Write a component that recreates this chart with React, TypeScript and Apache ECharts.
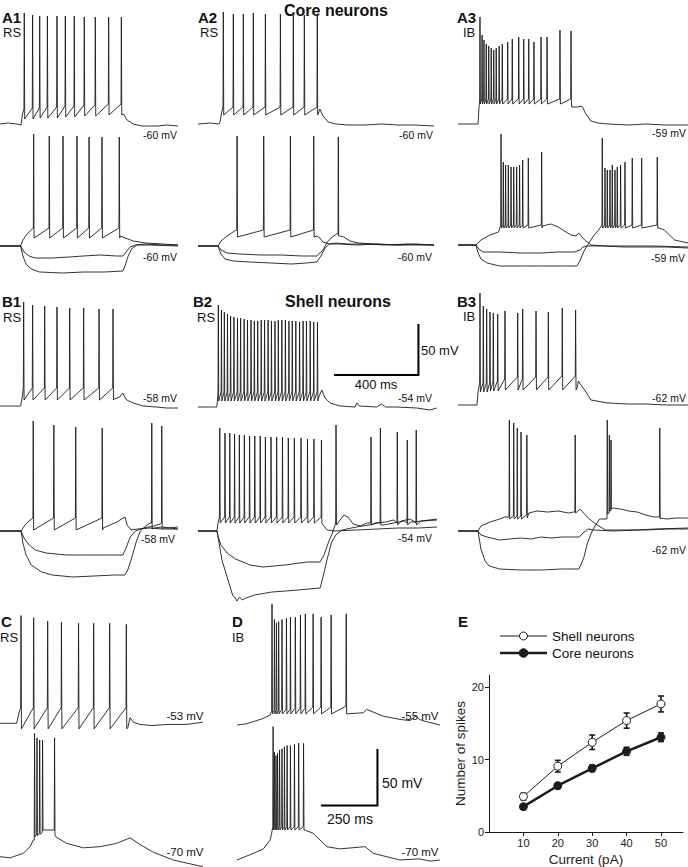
import React, { useEffect, useRef } from "react";
import * as echarts from "echarts";

type Pt = [number, number];

// ---------- Panel E data (number of spikes vs injected current) ----------
const currents = [10, 20, 30, 40, 50];
const shellMean = [4.9, 9.1, 12.4, 15.4, 17.7];
const shellSem = [0.45, 0.8, 1.0, 1.05, 1.1];
const coreMean = [3.5, 6.4, 8.8, 11.15, 13.1];
const coreSem = [0.3, 0.4, 0.45, 0.55, 0.6];
const eXTicks = [10, 20, 30, 40, 50];
const eYTicks = [0, 10, 20];

// ---------- Traces: time in ms, membrane potential in mV ----------
// A1 core RS
const a1TopPath: Pt[] = [[0, -60], [40, -59], [80, -60], [101, -61], [108, -50], [592, -50], [610, -56], [640, -60], [680, -62], [760, -62], [800, -61], [854, -62]];
const a1TopSpikeT = [115, 155, 189, 226, 272, 312, 355, 403, 456, 520, 581];
const a1TopSpikeV = [51, 49, 48, 48, 48, 48, 48, 47, 47, 47, 47];
const a1TopThr = [-45, -44, -44, -43, -43, -42, -42, -41, -41, -40, -40];
const a1TopAhp = [-55, -55, -54, -54, -54, -53, -53, -52, -52, -51, -51];
const a1BotDepPath: Pt[] = [[0, -60], [50, -60], [99, -60], [110, -54], [130, -48], [150, -44], [578, -50], [600, -52], [640, -55], [700, -57], [780, -58], [854, -59]];
const a1BotDepSpikeT = [160, 235, 301, 368, 426, 488, 571];
const a1BotDepSpikeV = [52, 50, 50, 50, 49, 49, 49];
const a1BotH1: Pt[] = [[0, -60], [99, -60], [115, -66], [140, -70], [168, -72], [250, -72], [330, -71], [400, -70], [480, -69], [560, -70], [590, -70], [605, -66], [625, -61], [650, -59], [700, -58], [780, -59], [854, -59]];
const a1BotH2: Pt[] = [[0, -60], [99, -60], [110, -70], [125, -78], [150, -83], [190, -86], [300, -87], [400, -86], [500, -86], [590, -85], [600, -80], [615, -70], [635, -62], [660, -59], [720, -59], [854, -60]];

// A2 core RS
const a2TopPath: Pt[] = [[0, -60], [60, -59], [100, -60], [106, -58], [112, -50], [585, -45], [600, -52], [625, -58], [660, -60], [720, -61], [800, -61], [880, -60], [960, -61], [1040, -61], [1133, -62]];
const a2TopSpikeT = [120, 168, 216, 264, 322, 394, 456, 509, 571];
const a2TopSpikeV = [52, 50, 50, 51, 50, 50, 49, 49, 49];
const a2BotDepPath: Pt[] = [[0, -60], [50, -60], [96, -60], [110, -55], [140, -50], [175, -45], [570, -50], [585, -52], [600, -56], [630, -58], [680, -58], [760, -59], [860, -58], [960, -59], [1040, -58], [1133, -59]];
const a2BotDepSpikeT = [186, 314, 442, 554];
const a2BotDepSpikeV = [50, 50, 50, 50];
const a2BotH1Path: Pt[] = [[0, -60], [96, -60], [110, -64], [140, -67], [200, -68], [300, -69], [400, -69], [500, -70], [570, -70], [600, -64], [620, -56], [645, -51], [665, -48], [680, -50], [700, -51], [730, -55], [770, -57], [850, -58], [950, -59], [1040, -59], [1133, -59]];
const a2BotH1SpikeT = [672];
const a2BotH1SpikeV = [49];
const a2BotH2: Pt[] = [[0, -60], [96, -60], [110, -68], [130, -73], [170, -75], [250, -76], [350, -77], [450, -78], [520, -77], [570, -76], [590, -70], [610, -62], [630, -58], [660, -57], [720, -58], [800, -58], [900, -59], [1000, -58], [1133, -59]];

// A3 core IB
const a3TopPath: Pt[] = [[0, -59], [50, -59], [96, -59], [100, -45], [546, -42], [575, -42], [592, -41], [600, -43], [611, -48], [638, -56], [672, -58], [720, -59], [820, -60], [900, -59], [1000, -60], [1104, -60]];
const a3TopSpikeT = [104, 114, 123, 134, 146, 158, 170, 182, 196, 211, 237, 259, 290, 314, 338, 363, 397, 426, 488, 541];
const a3TopSpikeV = [48, 30, 25, 21, 19, 17, 15, 17, 19, 21, 23, 26, 28, 26, 26, 23, 28, 28, 35, 34];
const a3BotDepPath: Pt[] = [[0, -59], [50, -59], [86, -59], [110, -54], [154, -49], [195, -46], [405, -40], [446, -38], [480, -41], [542, -49], [566, -50], [579, -47], [608, -54], [638, -59], [720, -60], [820, -60], [940, -60], [1104, -61]];
const a3BotDepSpikeT = [205, 216, 227, 240, 253, 266, 280, 294, 309, 336, 400];
const a3BotDepSpikeV = [52, 24, 21, 21, 19, 19, 19, 21, 26, 28, 34];
const a3BotH1: Pt[] = [[0, -59], [86, -59], [100, -63], [120, -66], [200, -66], [300, -67], [400, -67], [480, -66], [560, -66], [585, -64], [600, -61], [620, -60], [700, -60], [800, -61], [900, -61], [1000, -61], [1104, -62]];
const a3BotH2Path: Pt[] = [[0, -59], [86, -59], [95, -66], [110, -73], [140, -77], [200, -80], [300, -80], [400, -80], [500, -80], [570, -80], [585, -75], [605, -65], [625, -58], [650, -50], [675, -44], [965, -42], [990, -44], [1040, -54], [1104, -57]];
const a3BotH2SpikeT = [691, 704, 715, 728, 739, 752, 763, 779, 800, 835, 880, 955];
const a3BotH2SpikeV = [48, 18, 16, 16, 21, 16, 19, 21, 24, 28, 28, 29];

// B1 shell RS
const b1TopPath: Pt[] = [[0, -58], [50, -58], [99, -58], [106, -50], [548, -51], [575, -49], [589, -45], [608, -52], [640, -55], [688, -58], [750, -59], [800, -60], [854, -60]];
const b1TopSpikeT = [112, 155, 213, 272, 333, 400, 474, 541];
const b1TopSpikeV = [46, 43, 42, 41, 40, 40, 39, 39];
const b1BotDepPath: Pt[] = [[0, -58], [50, -58], [101, -58], [120, -52], [145, -47], [495, -55], [560, -49], [600, -44], [610, -52], [630, -57], [660, -56], [720, -55], [780, -56], [854, -56]];
const b1BotDepSpikeT = [158, 257, 362, 489];
const b1BotDepSpikeV = [52, 48, 46, 45];
const b1BotH1Path: Pt[] = [[0, -58], [101, -58], [115, -65], [140, -72], [170, -77], [220, -80], [320, -82], [420, -82], [520, -82], [590, -82], [605, -75], [625, -64], [650, -58], [690, -55], [740, -53], [768, -51], [785, -55], [810, -55], [854, -54]];
const b1BotH1SpikeT = [775];
const b1BotH1SpikeV = [47];
const b1BotH2Path: Pt[] = [[0, -58], [101, -58], [110, -70], [125, -82], [150, -92], [200, -99], [250, -102], [350, -104], [450, -103], [550, -102], [600, -102], [615, -96], [632, -85], [655, -68], [674, -58], [700, -53], [720, -50], [740, -55], [780, -54], [820, -55], [854, -56]];
const b1BotH2SpikeT = [727];
const b1BotH2SpikeV = [50];

// B2 shell RS
const b2TopPath: Pt[] = [[0, -54], [50, -54], [90, -54], [94, -46], [580, -44], [594, -37], [610, -45], [634, -50], [682, -53], [754, -54], [762, -50], [775, -53], [858, -54], [882, -51], [900, -54], [954, -54], [1050, -55], [1114, -57], [1146, -55]];
const b2TopSpikeT = [96, 111, 125, 140, 155, 171, 188, 203, 220, 236, 253, 269, 285, 302, 318, 335, 351, 368, 384, 401, 418, 435, 451, 468, 486, 503, 519, 537, 554, 572];
const b2TopSpikeV = [48, 43, 41, 39, 37, 36, 35, 35, 34, 33, 33, 32, 32, 33, 33, 33, 32, 32, 33, 33, 33, 32, 32, 32, 31, 32, 32, 32, 31, 31];
const b2BotDepPath: Pt[] = [[0, -54], [50, -54], [91, -54], [96, -46], [600, -48], [620, -53], [660, -54], [760, -53], [860, -52], [960, -51], [1060, -51], [1147, -50]];
const b2BotDepSpikeT = [103, 128, 151, 174, 197, 221, 246, 271, 297, 322, 349, 376, 404, 432, 461, 493, 524, 555, 591];
const b2BotDepSpikeV = [49, 44, 44, 43, 42, 42, 41, 41, 41, 40, 40, 40, 40, 39, 39, 39, 38, 38, 37];
const b2BotH1Path: Pt[] = [[0, -54], [91, -54], [100, -62], [110, -68], [140, -76], [180, -82], [250, -88], [312, -90], [418, -88], [523, -85], [586, -85], [605, -78], [625, -66], [645, -56], [655, -50], [700, -38], [720, -40], [745, -47], [780, -49], [810, -46], [850, -46], [900, -45], [940, -43], [975, -44], [1020, -42], [1070, -44], [1110, -43], [1147, -42]];
const b2BotH1SpikeT = [661, 829, 955, 1046];
const b2BotH1SpikeV = [52, 40, 45, 47];
const b2BotH2Path: Pt[] = [[0, -54], [91, -54], [100, -65], [115, -83], [144, -103], [166, -118], [178, -121], [187, -124], [200, -120], [212, -123], [230, -121], [271, -118], [355, -115], [420, -114], [480, -113], [586, -111], [600, -100], [619, -83], [640, -66], [661, -58], [691, -53], [760, -50], [820, -48], [862, -46], [890, -48], [940, -46], [990, -44], [1020, -45], [1080, -44], [1147, -43]];
const b2BotH2SpikeT = [874, 1003];
const b2BotH2SpikeV = [49, 37];

// B3 shell IB
const b3TopPath: Pt[] = [[0, -62], [50, -62], [91, -62], [97, -48], [570, -46], [578, -38], [590, -42], [608, -47], [638, -57], [720, -60], [820, -61], [900, -61], [1000, -62], [1104, -62]];
const b3TopSpikeT = [104, 120, 136, 152, 168, 189, 224, 285, 309, 373, 432, 499, 563];
const b3TopSpikeV = [50, 37, 34, 31, 30, 29, 32, 30, 34, 32, 31, 35, 33];
const b3TopThr = [-40, -40, -40, -40, -39, -38, -36, -34, -36, -34, -34, -33, -33];
const b3TopAhp = [-49, -49, -49, -48, -48, -48, -47, -47, -47, -47, -47, -47, -47];
const b3BotDepPath: Pt[] = [[0, -62], [50, -62], [96, -62], [110, -57], [154, -53], [200, -50], [225, -48], [340, -44], [380, -42], [430, -43], [480, -42], [530, -44], [555, -43], [575, -42], [585, -40], [620, -48], [660, -55], [708, -61], [800, -61], [900, -61], [1000, -60], [1104, -60]];
const b3BotDepSpikeT = [245, 266, 283, 301, 329, 561];
const b3BotDepSpikeV = [49, 46, 41, 37, 34, 34];
const b3BotDepThr = [-48, -47, -47, -47, -46, -43];
const b3BotDepAhp = [-50, -50, -50, -50, -49, -44];
const b3BotH1: Pt[] = [[0, -62], [96, -62], [110, -66], [140, -68], [200, -71], [250, -70], [300, -69], [350, -70], [400, -68], [450, -69], [500, -68], [560, -68], [582, -68], [600, -64], [625, -60], [650, -61], [750, -62], [850, -61], [950, -60], [1104, -59]];
const b3BotH2Path: Pt[] = [[0, -62], [96, -62], [110, -80], [130, -92], [150, -97], [200, -100], [300, -101], [400, -101], [500, -100], [580, -100], [590, -96], [605, -88], [620, -75], [640, -64], [660, -56], [680, -50], [745, -39], [780, -40], [820, -42], [860, -43], [900, -46], [940, -48], [975, -49], [1000, -50], [1050, -49], [1104, -49]];
const b3BotH2SpikeT = [715, 725, 733, 967];
const b3BotH2SpikeV = [49, 34, 29, 41];
const b3BotH2Thr = [-50, -44, -42, -48];
const b3BotH2Ahp = [-45, -42, -40, -50];

// C RS, D IB (two holding potentials)
const cTopPath: Pt[] = [[0, -53], [40, -53], [75, -53], [85, -44], [575, -57], [585, -48], [600, -52], [630, -54], [680, -55], [760, -54], [840, -54], [913, -52]];
const cTopSpikeT = [93, 150, 213, 275, 352, 420, 492, 567];
const cTopSpikeV = [44, 42, 39, 38, 37, 37, 37, 36];
const cBotPath: Pt[] = [[0, -70], [45, -71], [60, -70], [105, -67], [135, -61], [150, -55], [250, -52], [300, -58], [375, -62], [450, -61], [525, -58], [585, -53], [630, -59], [690, -66], [780, -73], [913, -79]];
const cBotSpikeT = [154, 165, 177, 190, 244];
const cBotSpikeV = [41, 37, 35, 35, 37];
const cBotThr = [-55, -50, -49, -48, -46];
const cBotAhp = [-52, -51, -50, -46, -51];
const dTopPath: Pt[] = [[0, -55], [40, -54], [74, -52], [119, -49], [149, -46], [495, -45], [568, -44], [584, -41], [658, -47], [734, -50], [778, -51], [806, -47], [821, -50], [852, -52], [913, -55]];
const dTopSpikeT = [156, 167, 176, 186, 201, 221, 239, 261, 284, 306, 341, 377, 422, 490];
const dTopSpikeV = [54, 40, 37, 38, 40, 41, 42, 42, 44, 45, 45, 42, 44, 45];
const dTopThr = [-42, -42, -42, -42, -41, -41, -41, -40, -40, -40, -39, -39, -39, -38];
const dBotPath: Pt[] = [[0, -70], [74, -64], [119, -60], [149, -52], [156, -46], [305, -43], [343, -46], [404, -58], [463, -60], [576, -58], [613, -64], [733, -70], [820, -69], [870, -71], [913, -70]];
const dBotSpikeT = [161, 167, 174, 181, 190, 201, 212, 224, 239, 257, 276, 298];
const dBotSpikeV = [50, 27, 24, 26, 29, 30, 32, 33, 33, 34, 35, 35];

// scale bars
const barAB = { ms: 400, mV: 50 };
const barCD = { ms: 250, mV: 50 };

// ---------- layout ----------
const FONT = '"Liberation Sans", Arial, Helvetica, sans-serif';
const INK = "#1c1c1c";
const SC_AB = { msPx: 4.8, mvPx: 1.0 };
const SC_CD = { msPx: 4.5, mvPx: 0.9 };

// [left, width, top, height], pixel row of rest level, rest potential
const PANELS = [
  { box: [0, 178, 0, 140], yRest: 124, rest: -60, sc: SC_AB },     // 0 A1 top
  { box: [198, 236, 0, 140], yRest: 124, rest: -60, sc: SC_AB },   // 1 A2 top
  { box: [458, 230, 0, 140], yRest: 124, rest: -59, sc: SC_AB },   // 2 A3 top
  { box: [0, 178, 130, 150], yRest: 246, rest: -60, sc: SC_AB },   // 3 A1 bottom
  { box: [198, 236, 130, 150], yRest: 246, rest: -60, sc: SC_AB }, // 4 A2 bottom
  { box: [458, 230, 130, 150], yRest: 245, rest: -59, sc: SC_AB }, // 5 A3 bottom
  { box: [0, 178, 285, 135], yRest: 406, rest: -58, sc: SC_AB },   // 6 B1 top
  { box: [198, 239, 285, 135], yRest: 407, rest: -54, sc: SC_AB }, // 7 B2 top
  { box: [458, 230, 285, 135], yRest: 405, rest: -62, sc: SC_AB }, // 8 B3 top
  { box: [0, 178, 415, 190], yRest: 531, rest: -58, sc: SC_AB },   // 9 B1 bottom
  { box: [198, 239, 415, 190], yRest: 531, rest: -54, sc: SC_AB }, // 10 B2 bottom
  { box: [458, 230, 415, 190], yRest: 531, rest: -62, sc: SC_AB }, // 11 B3 bottom
  { box: [0, 203, 595, 140], yRest: 723.3, rest: -53, sc: SC_CD }, // 12 C top
  { box: [0, 203, 720, 147], yRest: 856.7, rest: -70, sc: SC_CD }, // 13 C bottom
  { box: [237, 203, 595, 140], yRest: 725, rest: -55, sc: SC_CD }, // 14 D top
  { box: [237, 203, 720, 147], yRest: 860, rest: -70, sc: SC_CD }, // 15 D bottom
];
const E_GRID = 16;

function trace(path: Pt[], spikeT: number[] = [], spikeV: number[] = [], thr: number | number[] = -45, ahp: number | number[] = -50): Pt[] {
  const pts: Pt[] = path.map((p) => [p[0], p[1]] as Pt);
  spikeT.forEach((t, i) => {
    const th = Array.isArray(thr) ? thr[i] : thr;
    const ah = Array.isArray(ahp) ? ahp[i] : ahp;
    pts.push([t, th], [t + 1.5, spikeV[i]], [t + 3.5, ah]);
  });
  return pts.sort((a, b) => a[0] - b[0]);
}

const TRACES: [number, Pt[]][] = [
  [0, trace(a1TopPath, a1TopSpikeT, a1TopSpikeV, a1TopThr, a1TopAhp)],
  [1, trace(a2TopPath, a2TopSpikeT, a2TopSpikeV, -43, -51)],
  [2, trace(a3TopPath, a3TopSpikeT, a3TopSpikeV, -34, -39)],
  [3, trace(a1BotH2)],
  [3, trace(a1BotH1)],
  [3, trace(a1BotDepPath, a1BotDepSpikeT, a1BotDepSpikeV, -42, -52)],
  [4, trace(a2BotH2)],
  [4, trace(a2BotH1Path, a2BotH1SpikeT, a2BotH1SpikeV, -48, -50)],
  [4, trace(a2BotDepPath, a2BotDepSpikeT, a2BotDepSpikeV, -44, -51)],
  [5, trace(a3BotH1)],
  [5, trace(a3BotH2Path, a3BotH2SpikeT, a3BotH2SpikeV, -39, -42)],
  [5, trace(a3BotDepPath, a3BotDepSpikeT, a3BotDepSpikeV, -39, -42)],
  [6, trace(b1TopPath, b1TopSpikeT, b1TopSpikeV, -40, -52)],
  [7, trace(b2TopPath, b2TopSpikeT, b2TopSpikeV, -39, -48)],
  [8, trace(b3TopPath, b3TopSpikeT, b3TopSpikeV, b3TopThr, b3TopAhp)],
  [9, trace(b1BotH2Path, b1BotH2SpikeT, b1BotH2SpikeV, -50, -56)],
  [9, trace(b1BotH1Path, b1BotH1SpikeT, b1BotH1SpikeV, -50, -56)],
  [9, trace(b1BotDepPath, b1BotDepSpikeT, b1BotDepSpikeV, -45, -57)],
  [10, trace(b2BotH2Path, b2BotH2SpikeT, b2BotH2SpikeV, -46, -48)],
  [10, trace(b2BotH1Path, b2BotH1SpikeT, b2BotH1SpikeV, -46, -48)],
  [10, trace(b2BotDepPath, b2BotDepSpikeT, b2BotDepSpikeV, -40, -46)],
  [11, trace(b3BotH1)],
  [11, trace(b3BotH2Path, b3BotH2SpikeT, b3BotH2SpikeV, b3BotH2Thr, b3BotH2Ahp)],
  [11, trace(b3BotDepPath, b3BotDepSpikeT, b3BotDepSpikeV, b3BotDepThr, b3BotDepAhp)],
  [12, trace(cTopPath, cTopSpikeT, cTopSpikeV, -39, -58)],
  [13, trace(cBotPath, cBotSpikeT, cBotSpikeV, cBotThr, cBotAhp)],
  [14, trace(dTopPath, dTopSpikeT, dTopSpikeV, dTopThr, -45)],
  [15, trace(dBotPath, dBotSpikeT, dBotSpikeV, -40, -43)],
];

// scale bar anchors (ms, mV) inside their panels
const BAR_AB_AT = { panel: 7, t: 658, v: -22 };
const BAR_CD_AT = { panel: 15, t: 382, v: -21 };

// text labels: [text, x, y, size, weight, align]
const TEXTS: [string, number, number, number, string, string][] = [
  ["Core neurons", 336, 10, 16, "bold", "center"],
  ["Shell neurons", 338, 301, 16, "bold", "center"],
  ["A1", 2, 17, 15, "bold", "left"], ["RS", 3, 32, 13, "normal", "left"],
  ["A2", 198, 17, 15, "bold", "left"], ["RS", 200, 32, 13, "normal", "left"],
  ["A3", 457, 17, 15, "bold", "left"], ["IB", 463, 32, 13, "normal", "left"],
  ["B1", 2, 301, 15, "bold", "left"], ["RS", 3, 317, 13, "normal", "left"],
  ["B2", 193, 301, 15, "bold", "left"], ["RS", 197, 317, 13, "normal", "left"],
  ["B3", 457, 301, 15, "bold", "left"], ["IB", 463, 316, 13, "normal", "left"],
  ["C", 1, 621, 15, "bold", "left"], ["RS", 0, 637, 13, "normal", "left"],
  ["D", 232, 621, 15, "bold", "left"], ["IB", 232, 637, 13, "normal", "left"],
  ["E", 458, 621, 15, "bold", "left"],
  ["-60 mV", 160, 135, 10.5, "normal", "center"],
  ["-60 mV", 416, 135, 10.5, "normal", "center"],
  ["-59 mV", 669, 133, 10.5, "normal", "center"],
  ["-60 mV", 160, 257, 10.5, "normal", "center"],
  ["-60 mV", 415, 257, 10.5, "normal", "center"],
  ["-59 mV", 668, 258, 10.5, "normal", "center"],
  ["-58 mV", 160, 398, 10.5, "normal", "center"],
  ["-54 mV", 415, 398, 10.5, "normal", "center"],
  ["-62 mV", 669, 398, 10.5, "normal", "center"],
  ["-58 mV", 158, 539, 10.5, "normal", "center"],
  ["-54 mV", 415, 538, 10.5, "normal", "center"],
  ["-62 mV", 669, 550, 10.5, "normal", "center"],
  ["-53 mV", 185, 716, 11.5, "normal", "center"],
  ["-70 mV", 185, 852, 11.5, "normal", "center"],
  ["-55 mV", 420, 716, 11.5, "normal", "center"],
  ["-70 mV", 420, 852, 11.5, "normal", "center"],
  ["50 mV", 421, 350, 13, "normal", "left"],
  ["400 ms", 376, 384, 13, "normal", "center"],
  ["50 mV", 382, 783, 14, "normal", "left"],
  ["250 ms", 350, 819, 14, "normal", "center"],
];

function buildOption() {
  const grid: any[] = [];
  const xAxis: any[] = [];
  const yAxis: any[] = [];
  PANELS.forEach((p, i) => {
    const [left, width, top, height] = p.box;
    grid.push({ left, top, width, height });
    xAxis.push({ type: "value", gridIndex: i, min: 0, max: width * p.sc.msPx, show: false });
    yAxis.push({
      type: "value", gridIndex: i,
      min: p.rest - (top + height - p.yRest) * p.sc.mvPx,
      max: p.rest + (p.yRest - top) * p.sc.mvPx,
      show: false,
    });
  });
  // panel E
  grid.push({ left: 489, top: 675, width: 194, height: 162 });
  const axisCommon = {
    axisLine: { show: true, lineStyle: { color: INK, width: 1 } },
    splitLine: { show: false },
    nameTextStyle: { color: INK, fontFamily: FONT, fontSize: 13.5 },
  };
  xAxis.push({
    ...axisCommon,
    type: "value", gridIndex: E_GRID, min: 0, max: 56.4,
    axisTick: { show: true, length: 4, customValues: eXTicks, lineStyle: { color: INK } },
    axisLabel: { customValues: eXTicks, color: INK, fontFamily: FONT, fontSize: 11, margin: 5, formatter: (v: number) => (v === 0 ? "" : String(v)) },
    name: "Current (pA)", nameLocation: "middle", nameGap: 20,
  });
  yAxis.push({
    ...axisCommon,
    type: "value", gridIndex: E_GRID, min: 0, max: 21.7,
    axisTick: { show: true, length: 4, customValues: eYTicks, lineStyle: { color: INK } },
    axisLabel: { customValues: eYTicks, color: INK, fontFamily: FONT, fontSize: 11, margin: 5, formatter: (v: number) => (v % 10 === 0 ? String(v) : "") },
    name: "Number of spikes", nameLocation: "middle", nameGap: 14,
  });

  const series: any[] = TRACES.map(([pi, data]) => ({
    type: "line", xAxisIndex: pi, yAxisIndex: pi, data,
    showSymbol: false, symbol: "none", silent: true, clip: false,
    lineStyle: { color: INK, width: 0.9 }, z: 2,
  }));

  const bar = (at: { panel: number; t: number; v: number }, b: { ms: number; mV: number }) => ({
    type: "line", xAxisIndex: at.panel, yAxisIndex: at.panel, silent: true, clip: false,
    showSymbol: false, symbol: "none",
    data: [[at.t, at.v], [at.t + b.ms, at.v], [at.t + b.ms, at.v + b.mV]],
    lineStyle: { color: "#000", width: 2, cap: "square", join: "miter" }, z: 3,
  });
  series.push(bar(BAR_AB_AT, barAB), bar(BAR_CD_AT, barCD));

  const errSeries = (mean: number[], sem: number[]) => ({
    type: "custom", xAxisIndex: E_GRID, yAxisIndex: E_GRID, silent: true, z: 2,
    data: currents.map((c, i) => [c, mean[i], sem[i]]),
    encode: { x: 0, y: 1 },
    renderItem: (params: any, api: any) => {
      const x = api.value(0), m = api.value(1), e = api.value(2);
      const hi = api.coord([x, m + e]);
      const lo = api.coord([x, m - e]);
      const cw = 3;
      const st = { stroke: INK, lineWidth: 1.6 };
      return {
        type: "group",
        children: [
          { type: "line", shape: { x1: hi[0], y1: hi[1], x2: lo[0], y2: lo[1] }, style: st },
          { type: "line", shape: { x1: hi[0] - cw, y1: hi[1], x2: hi[0] + cw, y2: hi[1] }, style: st },
          { type: "line", shape: { x1: lo[0] - cw, y1: lo[1], x2: lo[0] + cw, y2: lo[1] }, style: st },
        ],
      };
    },
  });
  series.push(errSeries(shellMean, shellSem), errSeries(coreMean, coreSem));
  series.push({
    type: "line", name: "Shell neurons", xAxisIndex: E_GRID, yAxisIndex: E_GRID, silent: true, z: 3,
    data: currents.map((c, i) => [c, shellMean[i]]),
    symbol: "circle", symbolSize: 8,
    itemStyle: { color: "#fff", borderColor: INK, borderWidth: 1 },
    lineStyle: { color: INK, width: 1 },
  });
  series.push({
    type: "line", name: "Core neurons", xAxisIndex: E_GRID, yAxisIndex: E_GRID, silent: true, z: 3,
    data: currents.map((c, i) => [c, coreMean[i]]),
    symbol: "circle", symbolSize: 8,
    itemStyle: { color: INK, borderColor: INK, borderWidth: 1 },
    lineStyle: { color: INK, width: 2.5 },
  });

  const graphic: any[] = TEXTS.map(([text, x, y, size, weight, align]) => ({
    type: "text", x, y, silent: true, z: 10,
    style: { text, fill: "#111", fontFamily: FONT, fontSize: size, fontWeight: weight, textAlign: align, textVerticalAlign: "middle" },
  }));
  // legend of panel E
  graphic.push(
    { type: "line", shape: { x1: 500, y1: 636, x2: 547, y2: 636 }, style: { stroke: INK, lineWidth: 1 }, z: 10 },
    { type: "circle", shape: { cx: 523.5, cy: 636, r: 4 }, style: { fill: "#fff", stroke: INK, lineWidth: 1 }, z: 11 },
    { type: "text", x: 552, y: 636, style: { text: "Shell neurons", fill: "#111", fontFamily: FONT, fontSize: 13.5, textVerticalAlign: "middle" }, z: 10 },
    { type: "line", shape: { x1: 500, y1: 653, x2: 547, y2: 653 }, style: { stroke: INK, lineWidth: 2.5 }, z: 10 },
    { type: "circle", shape: { cx: 523.5, cy: 653, r: 4.3 }, style: { fill: INK, stroke: INK, lineWidth: 1 }, z: 11 },
    { type: "text", x: 552, y: 653, style: { text: "Core neurons", fill: "#111", fontFamily: FONT, fontSize: 13.5, textVerticalAlign: "middle" }, z: 10 },
  );

  return {
    animation: false,
    backgroundColor: "#fff",
    textStyle: { fontFamily: FONT },
    grid, xAxis, yAxis, series, graphic,
  };
}

export default function App() {
  const ref = useRef<HTMLDivElement>(null);
  useEffect(() => {
    document.body.style.margin = "0";
    if (!ref.current) return;
    const chart = echarts.init(ref.current, null, { renderer: "svg" });
    chart.setOption(buildOption() as any);
    return () => chart.dispose();
  }, []);
  return <div ref={ref} style={{ width: 688, height: 867, background: "#fff" }} />;
}
